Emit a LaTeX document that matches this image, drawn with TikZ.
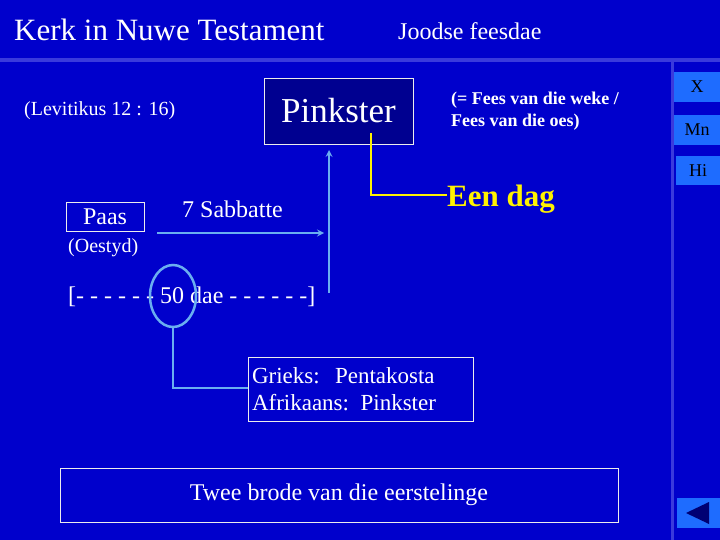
\documentclass[tikz,border=0pt]{standalone}
\usepackage{fontspec}
\setmainfont{Liberation Serif}
\begin{document}
\begin{tikzpicture}[x=1pt,y=-1pt,
  wbox/.style={draw=white!85!gray,line width=0.8pt},
  btn/.style={fill=btnblue,text=black,inner sep=0pt,font=\fontsize{18}{18}\selectfont},
  lb/.style={draw=lblue,line width=1.5pt},
  txt/.style={text=white,inner sep=0pt}]
\definecolor{bg}{HTML}{0000CC}
\definecolor{band}{HTML}{3A3ADC}
\definecolor{btnblue}{HTML}{1E6CFF}
\definecolor{lblue}{HTML}{6AAEF0}
\definecolor{navy}{HTML}{000090}
\fill[bg] (0,0) rectangle (720,540);
\useasboundingbox (0,0) rectangle (720,540);
\fill[band] (0,58) rectangle (720,62);
\fill[band] (671,62) rectangle (674,540);
\node[txt,font=\fontsize{31}{31}\selectfont,anchor=west] (title) at (14,30) {Kerk in Nuwe Testament};
\node[txt,font=\fontsize{24}{24}\selectfont,anchor=west] (sub) at (398,31) {Joodse feesdae};
\node[btn,minimum width=46,minimum height=30] (bx) at (697,87) {X};
\node[btn,minimum width=46,minimum height=30] (bm) at (697,130) {Mn};
\node[btn,minimum width=44,minimum height=29] (bh) at (698,171) {Hi};
\node[fill=btnblue,minimum width=43,minimum height=30,inner sep=0] (bb) at (698.5,513) {};
\fill[navy!80!black] (686,513) -- (709,502) -- (709,524) -- cycle;
\node[txt,font=\fontsize{20}{20}\selectfont,anchor=west] (lev) at (24,111) {(Levitikus 12 : 16)};
\node[wbox,fill=navy,minimum width=149,minimum height=66,text=white,font=\fontsize{35}{35}\selectfont] (pink) at (338.5,111) {Pinkster};
\node[txt,font=\bfseries\fontsize{18}{22}\selectfont,align=left,anchor=west] (fees) at (451,111) {(= Fees van die weke /\\Fees van die oes)};
\node[wbox,minimum width=78,minimum height=29,text=white,font=\fontsize{24}{24}\selectfont] (paas) at (105,216.5) {Paas};
\node[txt,font=\fontsize{24}{24}\selectfont,anchor=west] (sab) at (182,209) {7 Sabbatte};
\node[txt,font=\fontsize{20}{20}\selectfont,anchor=west] (oes) at (68,248) {(Oestyd)};
\node[txt,font=\fontsize{24}{24}\selectfont,anchor=west] (dae) at (68,297) {[- - - - - - 50 dae - - - - - -]};
\node[text=yellow,font=\bfseries\fontsize{31}{31}\selectfont,inner sep=0pt,anchor=west] (een) at (447,199) {Een dag};
\node[wbox,minimum width=225,minimum height=64,text=white,font=\fontsize{23}{27}\selectfont,align=left,text width=217] (grk) at (360.5,389) {Grieks:\ \ Pentakosta\\Afrikaans: Pinkster};
\node[wbox,minimum width=558,minimum height=54,text=white,font=\fontsize{24}{24}\selectfont] (twee) at (339,495) {Twee brode van die eerstelinge};
\draw[lb,line width=2.5pt] (173,296) ellipse (23 and 31);
\coordinate (ebot) at (173,327);
\coordinate (c1) at (173,388);
\draw[lb] (ebot) -- (c1) -- (grk.west |- c1);
\draw[lb,line width=2pt,-stealth] (157,233) -- (324,233);
\draw[lb,line width=2pt,-stealth] (329,293) -- (329,150);
\coordinate (y1) at (371,133);
\coordinate (y2) at (371,195);
\draw[yellow,line width=1.5pt] (y1) -- (y2) -- (een.west |- y2);
\end{tikzpicture}
\end{document}
